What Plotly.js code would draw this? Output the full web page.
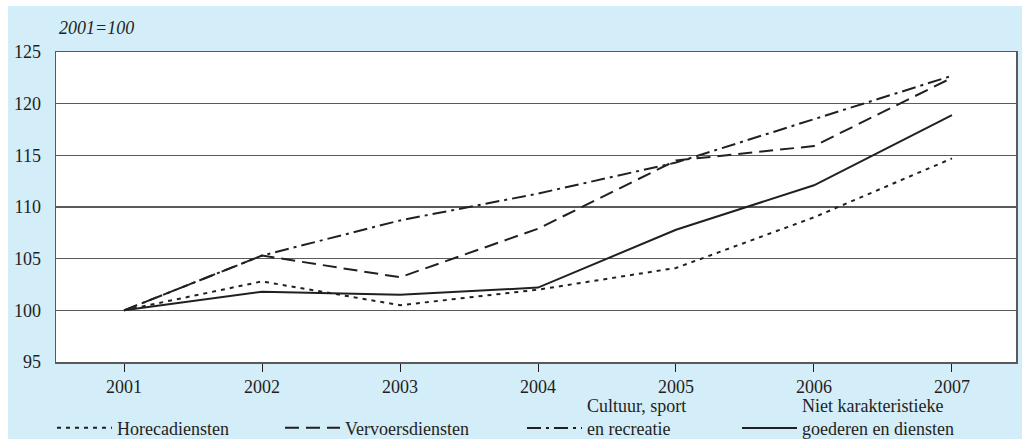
<!DOCTYPE html>
<html>
<head>
<meta charset="utf-8">
<script src="https://cdn.plot.ly/plotly-3.0.1.min.js"></script>
<style>html,body{margin:0;padding:0;background:#fff;}#chart{width:1022px;height:439px;}</style>
</head>
<body>
<div id="chart"></div>
<script>
const years = [2001, 2002, 2003, 2004, 2005, 2006, 2007];
const horeca = [100, 102.8, 100.5, 102.0, 104.1, 109.0, 114.7];
const vervoer = [100, 105.3, 103.2, 107.9, 114.5, 115.9, 122.5];
const cultuur = [100, 105.3, 108.7, 111.3, 114.3, 118.5, 122.7];
const nietKar = [100, 101.8, 101.5, 102.2, 107.8, 112.1, 118.9];
const seriesNames = ["Horecadiensten", "Vervoersdiensten", "Cultuur, sport<br>en recreatie", "Niet karakteristieke<br>goederen en diensten"];
const yTicks = [95, 100, 105, 110, 115, 120, 125];

const FONT = "Liberation Serif, Times New Roman, serif";
const INK = "#231f20";
const W = 960, H = 310, L = 56, T = 52;
const px = x => (x - L) / W;
const py = y => (T + H - y) / H;

const mk = (y, name, dash, leg) => ({
  x: years, y: y, name: name, type: "scatter", mode: "lines",
  line: {color: INK, width: 2, dash: dash}, legend: leg
});

const traces = [
  mk(horeca, seriesNames[0], "4px,5px", "legend"),
  mk(vervoer, seriesNames[1], "14px,7px", "legend2"),
  mk(cultuur, seriesNames[2], "14px,5px,3px,5px", "legend3"),
  mk(nietKar, seriesNames[3], "solid", "legend4")
];

const legBase = {
  orientation: "h", yanchor: "bottom", y: py(446.5), xanchor: "left",
  bgcolor: "rgba(0,0,0,0)", borderwidth: 0, valign: "bottom",
  font: {family: FONT, size: 18, color: INK}, itemwidth: 55
};

const layout = {
  width: 1022, height: 439,
  margin: {l: L, r: 1022 - L - W, t: T, b: 439 - T - H, pad: 0, autoexpand: false},
  paper_bgcolor: "#ffffff", plot_bgcolor: "#ffffff",
  font: {family: FONT, size: 18, color: INK},
  showlegend: true,
  legend: Object.assign({}, legBase, {x: px(52)}),
  legend2: Object.assign({}, legBase, {x: px(280)}),
  legend3: Object.assign({}, legBase, {x: px(522)}),
  legend4: Object.assign({}, legBase, {x: px(737)}),
  xaxis: {
    range: [2000.507, 2007.464], tickvals: years, ticktext: years.map(String),
    ticks: "outside", ticklen: 8, tickcolor: INK, tickwidth: 1,
    showgrid: false, zeroline: false, showline: true, mirror: true,
    linecolor: "#5a5a5a", linewidth: 1.5, tickfont: {family: FONT, size: 18, color: INK}
  },
  yaxis: {
    range: [95, 125], tickvals: yTicks, ticks: "", showgrid: true,
    gridcolor: "#5a5a5a", gridwidth: 1.2, zeroline: false, showline: true, mirror: true,
    linecolor: "#5a5a5a", linewidth: 1.5, ticklabelstandoff: 10,
    tickfont: {family: FONT, size: 18, color: INK}
  },
  shapes: [
    {type: "rect", xref: "paper", yref: "paper", x0: px(8), x1: px(1023), y0: py(6), y1: py(440),
     fillcolor: "#d3edf9", line: {width: 0}, layer: "below"},
    {type: "rect", xref: "paper", yref: "paper", x0: 0, x1: 1, y0: 0, y1: 1,
     fillcolor: "#ffffff", line: {width: 0}, layer: "below"}
  ],
  annotations: [
    {text: "<i>2001=100</i>", xref: "paper", yref: "paper", x: px(57), y: py(28),
     xanchor: "left", yanchor: "middle", showarrow: false,
     font: {family: FONT, size: 18, color: INK}}
  ]
};

Plotly.newPlot("chart", traces, layout, {displayModeBar: false, staticPlot: true});
</script>
</body>
</html>
